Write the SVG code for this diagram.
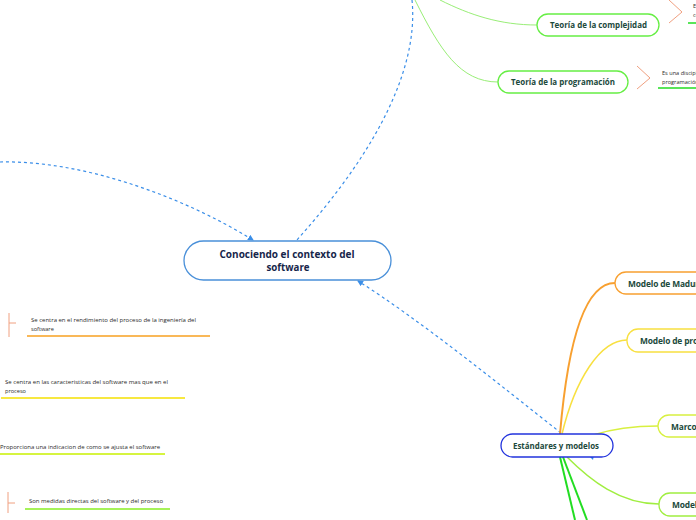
<svg xmlns="http://www.w3.org/2000/svg" width="696" height="520" viewBox="0 0 696 520">
<defs>
<style>
.node{fill:#fff;stroke-width:1.3}
.t{font-family:"Open Sans","Liberation Sans",sans-serif;font-weight:bold;fill:#1c4a3c;font-size:9px}
.tc{font-family:"Open Sans","Liberation Sans",sans-serif;font-weight:bold;fill:#1c4a3c;font-size:8.4px;letter-spacing:-0.15px}
.ct{font-family:"Open Sans","Liberation Sans",sans-serif;font-weight:bold;fill:#16264a;font-size:10.5px}
.n{font-family:"Open Sans","Liberation Sans",sans-serif;fill:#2a2a2a;font-size:5.6px}
.rel{fill:none;stroke:#3a8ee8;stroke-width:1.2;stroke-dasharray:3,3}
.br{fill:none;stroke:#f0a080;stroke-width:1}
</style>
<marker id="ah" viewBox="0 0 6 6" refX="5" refY="3" markerWidth="5" markerHeight="5" orient="auto">
<path d="M0,0 L6,3 L0,6 z" fill="#3a8ee8"/>
</marker>
</defs>
<rect width="696" height="520" fill="#fff"/>
<g id="connectors">
<path class="rel" d="M0,162 C80,160 180,195 253,240" marker-end="url(#ah)"/>
<path class="rel" d="M412,0 C420,80 360,170 296,241"/>
<path class="rel" d="M561,433 C500,385 420,320 358,281" marker-end="url(#ah)"/>
<path d="M588,455 L593,460 L594,455 z" fill="#3a8ee8"/>
<path d="M440,0 C470,15 500,25 537,25" fill="none" stroke="#99ee77" stroke-width="1"/>
<path d="M415,0 C440,50 460,82 498,82" fill="none" stroke="#99ee77" stroke-width="1"/>
<path d="M560,434 C568,340 585,283 615,283" fill="none" stroke="#f8a030" stroke-width="2"/>
<path d="M562,434 C575,380 600,340 627,340" fill="none" stroke="#f8e040" stroke-width="1.5"/>
<path d="M593,435 C615,428 635,426 658,426" fill="none" stroke="#d8f040" stroke-width="1.5"/>
<path d="M567,457 C590,480 620,504 659,504" fill="none" stroke="#a0ee40" stroke-width="1.5"/>
<path d="M560,457 L575,520" fill="none" stroke="#22dd22" stroke-width="2"/>
<path d="M563,457 L587,520" fill="none" stroke="#22dd22" stroke-width="2"/>
</g>
<g id="central">
<rect class="node" x="184" y="241" width="207" height="39" rx="19.5" stroke="#4a90d9"/>
<text class="ct" x="287" y="258" text-anchor="middle" textLength="135" lengthAdjust="spacingAndGlyphs">Conociendo el contexto del</text>
<text class="ct" x="288" y="271" text-anchor="middle" textLength="43" lengthAdjust="spacingAndGlyphs">software</text>
</g>
<g id="complejidad">
<rect class="node" x="537" y="14" width="122" height="22" rx="11" stroke="#66ee44"/>
<text class="t" x="550" y="28" textLength="97" lengthAdjust="spacingAndGlyphs">Teoría de la complejidad</text>
</g>
<g id="complejidad-note">
<path class="br" d="M669,0 L682,12 L669,23"/>
<text class="n" x="693" y="8">Es</text>
<text class="n" x="693" y="17">co</text>
<line x1="688" y1="23" x2="696" y2="23" stroke="#22dd22" stroke-width="1.5"/>
</g>
<g id="programacion">
<rect class="node" x="498" y="71" width="130" height="22" rx="11" stroke="#66ee44"/>
<text class="t" x="511" y="85" textLength="104" lengthAdjust="spacingAndGlyphs">Teoría de la programación</text>
</g>
<g id="programacion-note">
<path class="br" d="M637,66 L650,78 L637,89"/>
<text class="n" x="662" y="75">Es una disciplina</text>
<text class="n" x="662" y="84">programación</text>
<line x1="658" y1="88" x2="696" y2="88" stroke="#22dd22" stroke-width="1.5"/>
</g>
<g id="estandares">
<rect class="node" x="501" y="434" width="112" height="23" rx="11.5" stroke="#2233dd" stroke-width="1.5"/>
<text class="t" x="513" y="449" textLength="86" lengthAdjust="spacingAndGlyphs">Estándares y modelos</text>
</g>
<g id="madurez">
<rect class="node" x="615" y="272" width="110" height="22" rx="11" stroke="#f8a030"/>
<text class="tc" x="628" y="287">Modelo de Madurez</text>
</g>
<g id="proceso">
<rect class="node" x="627" y="329" width="100" height="23" rx="11" stroke="#f8e040"/>
<text class="tc" x="640" y="344">Modelo de proceso</text>
</g>
<g id="marco">
<rect class="node" x="658" y="415" width="80" height="22" rx="11" stroke="#d8f040"/>
<text class="tc" x="671" y="430">Marco</text>
</g>
<g id="modelo">
<rect class="node" x="659" y="493" width="80" height="23" rx="11" stroke="#a0ee40"/>
<text class="tc" x="672" y="508">Modelo</text>
</g>
<g id="note1">
<path class="br" d="M9,313 L9,337 M9,323 L16,323"/>
<text class="n" x="31" y="322" textLength="165" lengthAdjust="spacingAndGlyphs">Se centra en el rendimiento del proceso de la ingeniería del</text>
<text class="n" x="31" y="331">software</text>
<line x1="27" y1="336" x2="210" y2="336" stroke="#f7a020" stroke-width="1.5"/>
</g>
<g id="note2">
<text class="n" x="5" y="384" textLength="163" lengthAdjust="spacingAndGlyphs">Se centra en las caracteristicas del software mas que en el</text>
<text class="n" x="5" y="393">proceso</text>
<line x1="1" y1="398" x2="185" y2="398" stroke="#f5e000" stroke-width="1.5"/>
</g>
<g id="note3">
<text class="n" x="0" y="449" textLength="160" lengthAdjust="spacingAndGlyphs">Proporciona una indicacion de como se ajusta el software</text>
<line x1="0" y1="454" x2="165" y2="454" stroke="#c8f000" stroke-width="1.5"/>
</g>
<g id="note4">
<path class="br" d="M8,492 L8,513 M8,503 L15,503"/>
<text class="n" x="29" y="503" textLength="134" lengthAdjust="spacingAndGlyphs">Son medidas directas del software y del proceso</text>
<line x1="25" y1="509" x2="170" y2="509" stroke="#88ee22" stroke-width="1.5"/>
</g>
</svg>
